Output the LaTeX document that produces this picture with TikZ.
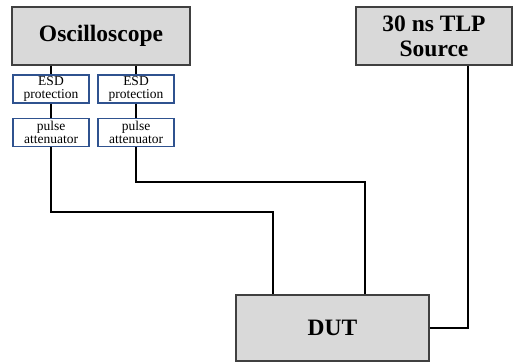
\documentclass[tikz,border=0pt]{standalone}
\usepackage{fontspec}
\setmainfont{Liberation Serif}
\usetikzlibrary{positioning}

\definecolor{boxgray}{RGB}{217,217,217}
\definecolor{boxedge}{RGB}{64,64,64}
\definecolor{smalledge}{RGB}{47,82,143}

\begin{document}
\begin{tikzpicture}[x=1pt, y=-1pt,
	bigbox/.style={draw=boxedge, fill=boxgray, line width=1.2pt, inner sep=0pt, align=center,
		font=\fontsize{23.5}{25}\selectfont\bfseries},
	smallbox/.style={draw=smalledge, fill=white, line width=1.2pt, inner sep=0pt, align=center,
		minimum width=76pt, minimum height=28pt, font=\fontsize{13.5}{13.5}\selectfont},
	wire/.style={draw=black, line width=1.6pt}]
	\useasboundingbox (0,0) rectangle (513,362);
	\node (osc) [bigbox, minimum width=178pt, minimum height=58pt] at (101,36) {Oscilloscope};
	\node (tlp) [bigbox, minimum width=156pt, minimum height=58pt] at (434,36) {30 ns TLP\\Source};
	\node (dut) [bigbox, minimum width=193pt, minimum height=66pt] at (332.5,328) {DUT};
	\node (esdA) [smallbox] at (51,89) {ESD\\protection};
	\node (esdB) [smallbox] at (136,89) {ESD\\protection};
	\node (pulseA) [smallbox, below=14pt of esdA] {pulse\\attenuator};
	\node (pulseB) [smallbox, below=14pt of esdB] {pulse\\attenuator};
	\coordinate (inA) at (273,212);
	\coordinate (inB) at (365,182);
	\path[wire]
		(esdA.north |- osc.south) -- (esdA.north)
		(esdB.north |- osc.south) -- (esdB.north)
		(esdA) -- (pulseA)
		(esdB) -- (pulseB)
		(pulseA.south) |- (inA) -- (inA |- dut.north)
		(pulseB.south) |- (inB) -- (inB |- dut.north)
		(dut.east) -| ([xshift=34pt]tlp.south)
	;
\end{tikzpicture}
\end{document}
